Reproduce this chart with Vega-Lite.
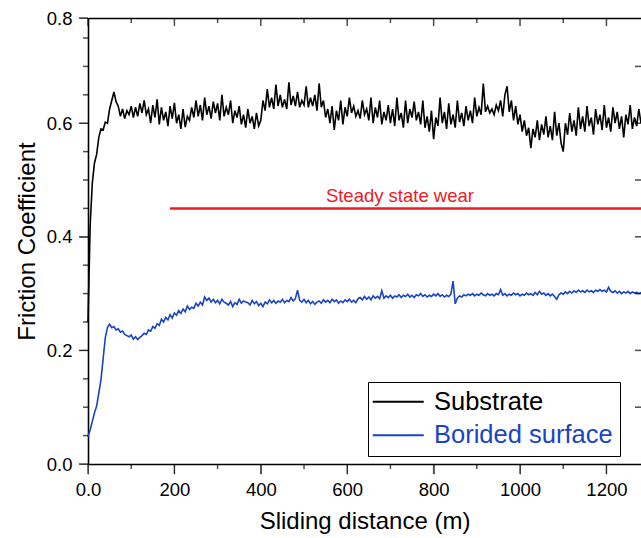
{
"$schema": "https://vega.github.io/schema/vega-lite/v6.json",
"width": 553, "height": 446,
"autosize": {"type": "none"},
"padding": {"left": 88, "top": 18, "right": 0, "bottom": 74},
"background": "white",
"config": {"font": "Liberation Sans", "view": {"stroke": null},
  "axis": {"domainColor": "black", "labelColor": "black", "titleColor": "black", "domainWidth": 1.6, "grid": false, "labelFontSize": 18.5, "titleFontSize": 24, "titleFontWeight": "normal", "labelFont": "Liberation Sans", "titleFont": "Liberation Sans"}},
"resolve": {"axis": {"x": "independent", "y": "independent"}},
"datasets": {
  "xmaj": [{"v":0},{"v":200},{"v":400},{"v":600},{"v":800},{"v":1000},{"v":1200}],
  "xmin": [{"v":100},{"v":300},{"v":500},{"v":700},{"v":900},{"v":1100}],
  "ymaj": [{"v":0},{"v":0.2},{"v":0.4},{"v":0.6},{"v":0.8}],
  "ymin": [{"v":0.05},{"v":0.1},{"v":0.15},{"v":0.25},{"v":0.3},{"v":0.35},{"v":0.45},{"v":0.5},{"v":0.55},{"v":0.65},{"v":0.7},{"v":0.75}],
  "yright": [{"v":0.1},{"v":0.2},{"v":0.3},{"v":0.4},{"v":0.5},{"v":0.6},{"v":0.7}],
  "note": [{"label": "Steady state wear", "x": 190, "x2": 1280, "tx": 722, "y": 0.45}]
},
"layer": [
{
"data": {"values": [
{"s":"Substrate","x":0,"y":0.250},{"s":"Substrate","x":5,"y":0.420},{"s":"Substrate","x":10,"y":0.495},{"s":"Substrate","x":15,"y":0.530},{"s":"Substrate","x":20,"y":0.545},{"s":"Substrate","x":25,"y":0.575},{"s":"Substrate","x":30,"y":0.590},{"s":"Substrate","x":35,"y":0.588},{"s":"Substrate","x":40,"y":0.602},{"s":"Substrate","x":45,"y":0.600},
{"s":"Substrate","x":50,"y":0.625},{"s":"Substrate","x":55,"y":0.640},{"s":"Substrate","x":60,"y":0.655},{"s":"Substrate","x":65,"y":0.638},{"s":"Substrate","x":70,"y":0.630},{"s":"Substrate","x":75,"y":0.612},{"s":"Substrate","x":80,"y":0.625},{"s":"Substrate","x":85,"y":0.608},{"s":"Substrate","x":90,"y":0.622},{"s":"Substrate","x":95,"y":0.615},
{"s":"Substrate","x":100,"y":0.630},{"s":"Substrate","x":105,"y":0.610},{"s":"Substrate","x":110,"y":0.628},{"s":"Substrate","x":115,"y":0.612},{"s":"Substrate","x":120,"y":0.635},{"s":"Substrate","x":125,"y":0.618},{"s":"Substrate","x":130,"y":0.640},{"s":"Substrate","x":135,"y":0.615},{"s":"Substrate","x":140,"y":0.625},{"s":"Substrate","x":145,"y":0.600},
{"s":"Substrate","x":150,"y":0.632},{"s":"Substrate","x":155,"y":0.610},{"s":"Substrate","x":160,"y":0.642},{"s":"Substrate","x":165,"y":0.598},{"s":"Substrate","x":170,"y":0.628},{"s":"Substrate","x":175,"y":0.605},{"s":"Substrate","x":180,"y":0.620},{"s":"Substrate","x":185,"y":0.595},{"s":"Substrate","x":190,"y":0.630},{"s":"Substrate","x":195,"y":0.608},
{"s":"Substrate","x":200,"y":0.636},{"s":"Substrate","x":205,"y":0.600},{"s":"Substrate","x":210,"y":0.615},{"s":"Substrate","x":215,"y":0.590},{"s":"Substrate","x":220,"y":0.625},{"s":"Substrate","x":225,"y":0.593},{"s":"Substrate","x":230,"y":0.612},{"s":"Substrate","x":235,"y":0.605},{"s":"Substrate","x":240,"y":0.628},{"s":"Substrate","x":245,"y":0.610},
{"s":"Substrate","x":250,"y":0.640},{"s":"Substrate","x":255,"y":0.612},{"s":"Substrate","x":260,"y":0.632},{"s":"Substrate","x":265,"y":0.605},{"s":"Substrate","x":270,"y":0.645},{"s":"Substrate","x":275,"y":0.615},{"s":"Substrate","x":280,"y":0.630},{"s":"Substrate","x":285,"y":0.608},{"s":"Substrate","x":290,"y":0.638},{"s":"Substrate","x":295,"y":0.618},
{"s":"Substrate","x":300,"y":0.635},{"s":"Substrate","x":305,"y":0.605},{"s":"Substrate","x":310,"y":0.650},{"s":"Substrate","x":315,"y":0.612},{"s":"Substrate","x":320,"y":0.628},{"s":"Substrate","x":325,"y":0.615},{"s":"Substrate","x":330,"y":0.640},{"s":"Substrate","x":335,"y":0.600},{"s":"Substrate","x":340,"y":0.622},{"s":"Substrate","x":345,"y":0.610},
{"s":"Substrate","x":350,"y":0.630},{"s":"Substrate","x":355,"y":0.598},{"s":"Substrate","x":360,"y":0.615},{"s":"Substrate","x":365,"y":0.592},{"s":"Substrate","x":370,"y":0.625},{"s":"Substrate","x":375,"y":0.600},{"s":"Substrate","x":380,"y":0.612},{"s":"Substrate","x":385,"y":0.590},{"s":"Substrate","x":390,"y":0.618},{"s":"Substrate","x":395,"y":0.595},
{"s":"Substrate","x":400,"y":0.605},{"s":"Substrate","x":405,"y":0.640},{"s":"Substrate","x":410,"y":0.622},{"s":"Substrate","x":415,"y":0.660},{"s":"Substrate","x":420,"y":0.628},{"s":"Substrate","x":425,"y":0.645},{"s":"Substrate","x":430,"y":0.625},{"s":"Substrate","x":435,"y":0.668},{"s":"Substrate","x":440,"y":0.630},{"s":"Substrate","x":445,"y":0.650},
{"s":"Substrate","x":450,"y":0.628},{"s":"Substrate","x":455,"y":0.642},{"s":"Substrate","x":460,"y":0.625},{"s":"Substrate","x":465,"y":0.672},{"s":"Substrate","x":470,"y":0.632},{"s":"Substrate","x":475,"y":0.648},{"s":"Substrate","x":480,"y":0.630},{"s":"Substrate","x":485,"y":0.655},{"s":"Substrate","x":490,"y":0.628},{"s":"Substrate","x":495,"y":0.640},
{"s":"Substrate","x":500,"y":0.632},{"s":"Substrate","x":505,"y":0.665},{"s":"Substrate","x":510,"y":0.628},{"s":"Substrate","x":515,"y":0.645},{"s":"Substrate","x":520,"y":0.630},{"s":"Substrate","x":525,"y":0.650},{"s":"Substrate","x":530,"y":0.622},{"s":"Substrate","x":535,"y":0.670},{"s":"Substrate","x":540,"y":0.628},{"s":"Substrate","x":545,"y":0.640},
{"s":"Substrate","x":550,"y":0.610},{"s":"Substrate","x":555,"y":0.625},{"s":"Substrate","x":560,"y":0.600},{"s":"Substrate","x":565,"y":0.630},{"s":"Substrate","x":570,"y":0.588},{"s":"Substrate","x":575,"y":0.622},{"s":"Substrate","x":580,"y":0.605},{"s":"Substrate","x":585,"y":0.640},{"s":"Substrate","x":590,"y":0.598},{"s":"Substrate","x":595,"y":0.628},
{"s":"Substrate","x":600,"y":0.612},{"s":"Substrate","x":605,"y":0.645},{"s":"Substrate","x":610,"y":0.618},{"s":"Substrate","x":615,"y":0.630},{"s":"Substrate","x":620,"y":0.612},{"s":"Substrate","x":625,"y":0.622},{"s":"Substrate","x":630,"y":0.608},{"s":"Substrate","x":635,"y":0.640},{"s":"Substrate","x":640,"y":0.615},{"s":"Substrate","x":645,"y":0.625},
{"s":"Substrate","x":650,"y":0.605},{"s":"Substrate","x":655,"y":0.645},{"s":"Substrate","x":660,"y":0.600},{"s":"Substrate","x":665,"y":0.628},{"s":"Substrate","x":670,"y":0.610},{"s":"Substrate","x":675,"y":0.640},{"s":"Substrate","x":680,"y":0.598},{"s":"Substrate","x":685,"y":0.620},{"s":"Substrate","x":690,"y":0.605},{"s":"Substrate","x":695,"y":0.632},
{"s":"Substrate","x":700,"y":0.600},{"s":"Substrate","x":705,"y":0.625},{"s":"Substrate","x":710,"y":0.595},{"s":"Substrate","x":715,"y":0.645},{"s":"Substrate","x":720,"y":0.605},{"s":"Substrate","x":725,"y":0.618},{"s":"Substrate","x":730,"y":0.592},{"s":"Substrate","x":735,"y":0.640},{"s":"Substrate","x":740,"y":0.600},{"s":"Substrate","x":745,"y":0.625},
{"s":"Substrate","x":750,"y":0.610},{"s":"Substrate","x":755,"y":0.638},{"s":"Substrate","x":760,"y":0.605},{"s":"Substrate","x":765,"y":0.620},{"s":"Substrate","x":770,"y":0.598},{"s":"Substrate","x":775,"y":0.640},{"s":"Substrate","x":780,"y":0.592},{"s":"Substrate","x":785,"y":0.612},{"s":"Substrate","x":790,"y":0.585},{"s":"Substrate","x":795,"y":0.622},
{"s":"Substrate","x":800,"y":0.572},{"s":"Substrate","x":805,"y":0.610},{"s":"Substrate","x":810,"y":0.595},{"s":"Substrate","x":815,"y":0.645},{"s":"Substrate","x":820,"y":0.600},{"s":"Substrate","x":825,"y":0.620},{"s":"Substrate","x":830,"y":0.590},{"s":"Substrate","x":835,"y":0.635},{"s":"Substrate","x":840,"y":0.598},{"s":"Substrate","x":845,"y":0.615},
{"s":"Substrate","x":850,"y":0.592},{"s":"Substrate","x":855,"y":0.640},{"s":"Substrate","x":860,"y":0.602},{"s":"Substrate","x":865,"y":0.618},{"s":"Substrate","x":870,"y":0.595},{"s":"Substrate","x":875,"y":0.630},{"s":"Substrate","x":880,"y":0.605},{"s":"Substrate","x":885,"y":0.622},{"s":"Substrate","x":890,"y":0.600},{"s":"Substrate","x":895,"y":0.645},
{"s":"Substrate","x":900,"y":0.612},{"s":"Substrate","x":905,"y":0.628},{"s":"Substrate","x":910,"y":0.615},{"s":"Substrate","x":915,"y":0.670},{"s":"Substrate","x":920,"y":0.620},{"s":"Substrate","x":925,"y":0.630},{"s":"Substrate","x":930,"y":0.618},{"s":"Substrate","x":935,"y":0.625},{"s":"Substrate","x":940,"y":0.615},{"s":"Substrate","x":945,"y":0.632},
{"s":"Substrate","x":950,"y":0.622},{"s":"Substrate","x":955,"y":0.640},{"s":"Substrate","x":960,"y":0.612},{"s":"Substrate","x":965,"y":0.650},{"s":"Substrate","x":970,"y":0.665},{"s":"Substrate","x":975,"y":0.620},{"s":"Substrate","x":980,"y":0.640},{"s":"Substrate","x":985,"y":0.605},{"s":"Substrate","x":990,"y":0.630},{"s":"Substrate","x":995,"y":0.598},
{"s":"Substrate","x":1000,"y":0.615},{"s":"Substrate","x":1005,"y":0.585},{"s":"Substrate","x":1010,"y":0.605},{"s":"Substrate","x":1015,"y":0.578},{"s":"Substrate","x":1020,"y":0.592},{"s":"Substrate","x":1025,"y":0.556},{"s":"Substrate","x":1030,"y":0.590},{"s":"Substrate","x":1035,"y":0.575},{"s":"Substrate","x":1040,"y":0.605},{"s":"Substrate","x":1045,"y":0.570},
{"s":"Substrate","x":1050,"y":0.598},{"s":"Substrate","x":1055,"y":0.580},{"s":"Substrate","x":1060,"y":0.612},{"s":"Substrate","x":1065,"y":0.575},{"s":"Substrate","x":1070,"y":0.595},{"s":"Substrate","x":1075,"y":0.570},{"s":"Substrate","x":1080,"y":0.620},{"s":"Substrate","x":1085,"y":0.578},{"s":"Substrate","x":1090,"y":0.600},{"s":"Substrate","x":1095,"y":0.565},
{"s":"Substrate","x":1100,"y":0.550},{"s":"Substrate","x":1105,"y":0.600},{"s":"Substrate","x":1110,"y":0.580},{"s":"Substrate","x":1115,"y":0.618},{"s":"Substrate","x":1120,"y":0.585},{"s":"Substrate","x":1125,"y":0.605},{"s":"Substrate","x":1130,"y":0.578},{"s":"Substrate","x":1135,"y":0.628},{"s":"Substrate","x":1140,"y":0.590},{"s":"Substrate","x":1145,"y":0.612},
{"s":"Substrate","x":1150,"y":0.585},{"s":"Substrate","x":1155,"y":0.630},{"s":"Substrate","x":1160,"y":0.595},{"s":"Substrate","x":1165,"y":0.610},{"s":"Substrate","x":1170,"y":0.580},{"s":"Substrate","x":1175,"y":0.625},{"s":"Substrate","x":1180,"y":0.598},{"s":"Substrate","x":1185,"y":0.615},{"s":"Substrate","x":1190,"y":0.588},{"s":"Substrate","x":1195,"y":0.632},
{"s":"Substrate","x":1200,"y":0.592},{"s":"Substrate","x":1205,"y":0.610},{"s":"Substrate","x":1210,"y":0.585},{"s":"Substrate","x":1215,"y":0.628},{"s":"Substrate","x":1220,"y":0.600},{"s":"Substrate","x":1225,"y":0.620},{"s":"Substrate","x":1230,"y":0.590},{"s":"Substrate","x":1235,"y":0.612},{"s":"Substrate","x":1240,"y":0.575},{"s":"Substrate","x":1245,"y":0.615},
{"s":"Substrate","x":1250,"y":0.598},{"s":"Substrate","x":1255,"y":0.632},{"s":"Substrate","x":1260,"y":0.590},{"s":"Substrate","x":1265,"y":0.610},{"s":"Substrate","x":1270,"y":0.595},{"s":"Substrate","x":1275,"y":0.625},{"s":"Substrate","x":1280,"y":0.600},
{"s":"Borided surface","x":0,"y":0.048},{"s":"Borided surface","x":5,"y":0.060},{"s":"Borided surface","x":10,"y":0.075},{"s":"Borided surface","x":15,"y":0.090},{"s":"Borided surface","x":20,"y":0.102},{"s":"Borided surface","x":25,"y":0.125},{"s":"Borided surface","x":30,"y":0.148},{"s":"Borided surface","x":35,"y":0.185},{"s":"Borided surface","x":40,"y":0.222},{"s":"Borided surface","x":45,"y":0.240},
{"s":"Borided surface","x":50,"y":0.246},{"s":"Borided surface","x":55,"y":0.240},{"s":"Borided surface","x":60,"y":0.242},{"s":"Borided surface","x":65,"y":0.236},{"s":"Borided surface","x":70,"y":0.238},{"s":"Borided surface","x":75,"y":0.232},{"s":"Borided surface","x":80,"y":0.234},{"s":"Borided surface","x":85,"y":0.228},{"s":"Borided surface","x":90,"y":0.226},{"s":"Borided surface","x":95,"y":0.224},
{"s":"Borided surface","x":100,"y":0.227},{"s":"Borided surface","x":105,"y":0.220},{"s":"Borided surface","x":110,"y":0.224},{"s":"Borided surface","x":115,"y":0.219},{"s":"Borided surface","x":120,"y":0.223},{"s":"Borided surface","x":125,"y":0.226},{"s":"Borided surface","x":130,"y":0.230},{"s":"Borided surface","x":135,"y":0.228},{"s":"Borided surface","x":140,"y":0.236},{"s":"Borided surface","x":145,"y":0.234},
{"s":"Borided surface","x":150,"y":0.242},{"s":"Borided surface","x":155,"y":0.239},{"s":"Borided surface","x":160,"y":0.247},{"s":"Borided surface","x":165,"y":0.244},{"s":"Borided surface","x":170,"y":0.255},{"s":"Borided surface","x":175,"y":0.250},{"s":"Borided surface","x":180,"y":0.258},{"s":"Borided surface","x":185,"y":0.254},{"s":"Borided surface","x":190,"y":0.263},{"s":"Borided surface","x":195,"y":0.257},
{"s":"Borided surface","x":200,"y":0.266},{"s":"Borided surface","x":205,"y":0.262},{"s":"Borided surface","x":210,"y":0.270},{"s":"Borided surface","x":215,"y":0.265},{"s":"Borided surface","x":220,"y":0.273},{"s":"Borided surface","x":225,"y":0.268},{"s":"Borided surface","x":230,"y":0.278},{"s":"Borided surface","x":235,"y":0.272},{"s":"Borided surface","x":240,"y":0.276},{"s":"Borided surface","x":245,"y":0.274},
{"s":"Borided surface","x":250,"y":0.283},{"s":"Borided surface","x":255,"y":0.278},{"s":"Borided surface","x":260,"y":0.285},{"s":"Borided surface","x":265,"y":0.280},{"s":"Borided surface","x":270,"y":0.294},{"s":"Borided surface","x":275,"y":0.288},{"s":"Borided surface","x":280,"y":0.292},{"s":"Borided surface","x":285,"y":0.285},{"s":"Borided surface","x":290,"y":0.290},{"s":"Borided surface","x":295,"y":0.284},
{"s":"Borided surface","x":300,"y":0.288},{"s":"Borided surface","x":305,"y":0.282},{"s":"Borided surface","x":310,"y":0.290},{"s":"Borided surface","x":315,"y":0.285},{"s":"Borided surface","x":320,"y":0.283},{"s":"Borided surface","x":325,"y":0.280},{"s":"Borided surface","x":330,"y":0.286},{"s":"Borided surface","x":335,"y":0.277},{"s":"Borided surface","x":340,"y":0.284},{"s":"Borided surface","x":345,"y":0.281},
{"s":"Borided surface","x":350,"y":0.290},{"s":"Borided surface","x":355,"y":0.283},{"s":"Borided surface","x":360,"y":0.287},{"s":"Borided surface","x":365,"y":0.285},{"s":"Borided surface","x":370,"y":0.284},{"s":"Borided surface","x":375,"y":0.280},{"s":"Borided surface","x":380,"y":0.288},{"s":"Borided surface","x":385,"y":0.282},{"s":"Borided surface","x":390,"y":0.286},{"s":"Borided surface","x":395,"y":0.279},
{"s":"Borided surface","x":400,"y":0.283},{"s":"Borided surface","x":405,"y":0.277},{"s":"Borided surface","x":410,"y":0.285},{"s":"Borided surface","x":415,"y":0.282},{"s":"Borided surface","x":420,"y":0.289},{"s":"Borided surface","x":425,"y":0.284},{"s":"Borided surface","x":430,"y":0.288},{"s":"Borided surface","x":435,"y":0.283},{"s":"Borided surface","x":440,"y":0.287},{"s":"Borided surface","x":445,"y":0.285},
{"s":"Borided surface","x":450,"y":0.290},{"s":"Borided surface","x":455,"y":0.284},{"s":"Borided surface","x":460,"y":0.288},{"s":"Borided surface","x":465,"y":0.286},{"s":"Borided surface","x":470,"y":0.293},{"s":"Borided surface","x":475,"y":0.287},{"s":"Borided surface","x":480,"y":0.291},{"s":"Borided surface","x":485,"y":0.306},{"s":"Borided surface","x":490,"y":0.288},{"s":"Borided surface","x":495,"y":0.285},
{"s":"Borided surface","x":500,"y":0.290},{"s":"Borided surface","x":505,"y":0.284},{"s":"Borided surface","x":510,"y":0.288},{"s":"Borided surface","x":515,"y":0.282},{"s":"Borided surface","x":520,"y":0.286},{"s":"Borided surface","x":525,"y":0.281},{"s":"Borided surface","x":530,"y":0.285},{"s":"Borided surface","x":535,"y":0.287},{"s":"Borided surface","x":540,"y":0.283},{"s":"Borided surface","x":545,"y":0.289},
{"s":"Borided surface","x":550,"y":0.285},{"s":"Borided surface","x":555,"y":0.288},{"s":"Borided surface","x":560,"y":0.284},{"s":"Borided surface","x":565,"y":0.290},{"s":"Borided surface","x":570,"y":0.286},{"s":"Borided surface","x":575,"y":0.289},{"s":"Borided surface","x":580,"y":0.283},{"s":"Borided surface","x":585,"y":0.287},{"s":"Borided surface","x":590,"y":0.284},{"s":"Borided surface","x":595,"y":0.289},
{"s":"Borided surface","x":600,"y":0.286},{"s":"Borided surface","x":605,"y":0.290},{"s":"Borided surface","x":610,"y":0.285},{"s":"Borided surface","x":615,"y":0.288},{"s":"Borided surface","x":620,"y":0.284},{"s":"Borided surface","x":625,"y":0.291},{"s":"Borided surface","x":630,"y":0.293},{"s":"Borided surface","x":635,"y":0.289},{"s":"Borided surface","x":640,"y":0.295},{"s":"Borided surface","x":645,"y":0.290},
{"s":"Borided surface","x":650,"y":0.294},{"s":"Borided surface","x":655,"y":0.289},{"s":"Borided surface","x":660,"y":0.296},{"s":"Borided surface","x":665,"y":0.292},{"s":"Borided surface","x":670,"y":0.295},{"s":"Borided surface","x":675,"y":0.291},{"s":"Borided surface","x":680,"y":0.305},{"s":"Borided surface","x":685,"y":0.292},{"s":"Borided surface","x":690,"y":0.296},{"s":"Borided surface","x":695,"y":0.293},
{"s":"Borided surface","x":700,"y":0.297},{"s":"Borided surface","x":705,"y":0.292},{"s":"Borided surface","x":710,"y":0.296},{"s":"Borided surface","x":715,"y":0.294},{"s":"Borided surface","x":720,"y":0.298},{"s":"Borided surface","x":725,"y":0.293},{"s":"Borided surface","x":730,"y":0.297},{"s":"Borided surface","x":735,"y":0.295},{"s":"Borided surface","x":740,"y":0.299},{"s":"Borided surface","x":745,"y":0.294},
{"s":"Borided surface","x":750,"y":0.297},{"s":"Borided surface","x":755,"y":0.293},{"s":"Borided surface","x":760,"y":0.298},{"s":"Borided surface","x":765,"y":0.296},{"s":"Borided surface","x":770,"y":0.300},{"s":"Borided surface","x":775,"y":0.295},{"s":"Borided surface","x":780,"y":0.298},{"s":"Borided surface","x":785,"y":0.294},{"s":"Borided surface","x":790,"y":0.297},{"s":"Borided surface","x":795,"y":0.295},
{"s":"Borided surface","x":800,"y":0.299},{"s":"Borided surface","x":805,"y":0.296},{"s":"Borided surface","x":810,"y":0.300},{"s":"Borided surface","x":815,"y":0.295},{"s":"Borided surface","x":820,"y":0.298},{"s":"Borided surface","x":825,"y":0.294},{"s":"Borided surface","x":830,"y":0.297},{"s":"Borided surface","x":835,"y":0.295},{"s":"Borided surface","x":840,"y":0.299},{"s":"Borided surface","x":845,"y":0.322},
{"s":"Borided surface","x":850,"y":0.282},{"s":"Borided surface","x":855,"y":0.292},{"s":"Borided surface","x":860,"y":0.296},{"s":"Borided surface","x":865,"y":0.294},{"s":"Borided surface","x":870,"y":0.298},{"s":"Borided surface","x":875,"y":0.296},{"s":"Borided surface","x":880,"y":0.299},{"s":"Borided surface","x":885,"y":0.297},{"s":"Borided surface","x":890,"y":0.300},{"s":"Borided surface","x":895,"y":0.296},
{"s":"Borided surface","x":900,"y":0.299},{"s":"Borided surface","x":905,"y":0.297},{"s":"Borided surface","x":910,"y":0.301},{"s":"Borided surface","x":915,"y":0.298},{"s":"Borided surface","x":920,"y":0.296},{"s":"Borided surface","x":925,"y":0.300},{"s":"Borided surface","x":930,"y":0.297},{"s":"Borided surface","x":935,"y":0.299},{"s":"Borided surface","x":940,"y":0.296},{"s":"Borided surface","x":945,"y":0.300},
{"s":"Borided surface","x":950,"y":0.298},{"s":"Borided surface","x":955,"y":0.307},{"s":"Borided surface","x":960,"y":0.297},{"s":"Borided surface","x":965,"y":0.300},{"s":"Borided surface","x":970,"y":0.296},{"s":"Borided surface","x":975,"y":0.299},{"s":"Borided surface","x":980,"y":0.297},{"s":"Borided surface","x":985,"y":0.301},{"s":"Borided surface","x":990,"y":0.298},{"s":"Borided surface","x":995,"y":0.300},
{"s":"Borided surface","x":1000,"y":0.296},{"s":"Borided surface","x":1005,"y":0.299},{"s":"Borided surface","x":1010,"y":0.297},{"s":"Borided surface","x":1015,"y":0.301},{"s":"Borided surface","x":1020,"y":0.298},{"s":"Borided surface","x":1025,"y":0.300},{"s":"Borided surface","x":1030,"y":0.297},{"s":"Borided surface","x":1035,"y":0.302},{"s":"Borided surface","x":1040,"y":0.298},{"s":"Borided surface","x":1045,"y":0.304},
{"s":"Borided surface","x":1050,"y":0.299},{"s":"Borided surface","x":1055,"y":0.301},{"s":"Borided surface","x":1060,"y":0.297},{"s":"Borided surface","x":1065,"y":0.300},{"s":"Borided surface","x":1070,"y":0.296},{"s":"Borided surface","x":1075,"y":0.299},{"s":"Borided surface","x":1080,"y":0.295},{"s":"Borided surface","x":1085,"y":0.290},{"s":"Borided surface","x":1090,"y":0.298},{"s":"Borided surface","x":1095,"y":0.301},
{"s":"Borided surface","x":1100,"y":0.299},{"s":"Borided surface","x":1105,"y":0.303},{"s":"Borided surface","x":1110,"y":0.300},{"s":"Borided surface","x":1115,"y":0.304},{"s":"Borided surface","x":1120,"y":0.301},{"s":"Borided surface","x":1125,"y":0.305},{"s":"Borided surface","x":1130,"y":0.302},{"s":"Borided surface","x":1135,"y":0.306},{"s":"Borided surface","x":1140,"y":0.303},{"s":"Borided surface","x":1145,"y":0.305},
{"s":"Borided surface","x":1150,"y":0.302},{"s":"Borided surface","x":1155,"y":0.306},{"s":"Borided surface","x":1160,"y":0.303},{"s":"Borided surface","x":1165,"y":0.305},{"s":"Borided surface","x":1170,"y":0.302},{"s":"Borided surface","x":1175,"y":0.306},{"s":"Borided surface","x":1180,"y":0.304},{"s":"Borided surface","x":1185,"y":0.307},{"s":"Borided surface","x":1190,"y":0.304},{"s":"Borided surface","x":1195,"y":0.306},
{"s":"Borided surface","x":1200,"y":0.303},{"s":"Borided surface","x":1205,"y":0.311},{"s":"Borided surface","x":1210,"y":0.304},{"s":"Borided surface","x":1215,"y":0.302},{"s":"Borided surface","x":1220,"y":0.305},{"s":"Borided surface","x":1225,"y":0.301},{"s":"Borided surface","x":1230,"y":0.304},{"s":"Borided surface","x":1235,"y":0.300},{"s":"Borided surface","x":1240,"y":0.303},{"s":"Borided surface","x":1245,"y":0.301},
{"s":"Borided surface","x":1250,"y":0.304},{"s":"Borided surface","x":1255,"y":0.300},{"s":"Borided surface","x":1260,"y":0.303},{"s":"Borided surface","x":1265,"y":0.301},{"s":"Borided surface","x":1270,"y":0.302},{"s":"Borided surface","x":1275,"y":0.300},{"s":"Borided surface","x":1280,"y":0.302}
]},
"mark": {"type": "line", "strokeWidth": 1.6},
"encoding": {
  "x": {"field": "x", "type": "quantitative", "scale": {"domain": [0, 1280], "nice": false, "zero": false},
    "axis": {"orient": "bottom", "values": [0, 200, 400, 600, 800, 1000, 1200], "format": "d", "labelExpr": "datum.value === 0 ? '0.0' : datum.label", "tickSize": 10, "labelPadding": 6, "labelFlush": false, "labelOverlap": false, "title": "Sliding distance (m)", "titlePadding": 11}},
  "y": {"field": "y", "type": "quantitative", "scale": {"domain": [0, 0.75, 0.8], "range": [446, 20, 0], "nice": false, "zero": false},
    "axis": {"orient": "left", "values": [0, 0.2, 0.4, 0.6, 0.8], "format": ".1f", "tickSize": 9, "labelPadding": 7, "labelFlush": false, "labelOverlap": false, "title": "Friction Coefficient", "titlePadding": 7}},
  "color": {"field": "s", "type": "nominal", "scale": {"domain": ["Substrate", "Borided surface"], "range": ["#000000", "#1a44c6"]},
    "legend": {"orient": "none", "legendX": 280, "legendY": 364, "title": null, "direction": "vertical", "strokeColor": "black", "fillColor": "white", "padding": 7, "symbolType": "M-2.55,0H2.55", "symbolSize": 400, "symbolOffset": 10.5, "symbolStrokeWidth": 2, "labelFontSize": 25.5, "labelOffset": 23, "rowPadding": 6.6, "labelLimit": 400, "labelFont": "Liberation Sans",
      "encode": {"labels": {"update": {"fill": {"signal": "datum.value === 'Substrate' ? '#000000' : '#1a44c6'"}}}}}}
}
},
{
"data": {"name": "note"},
"mark": {"type": "rule", "color": "#ec1c24", "strokeWidth": 2.5},
"encoding": {
  "x": {"field": "x", "type": "quantitative", "scale": {"domain": [0, 1280], "nice": false, "zero": false},
    "axis": {"orient": "top", "values": [0, 200, 400, 600, 800, 1000, 1200], "ticks": false, "labels": false, "title": null, "domain": true}},
  "x2": {"field": "x2"},
  "y": {"field": "y", "type": "quantitative", "scale": {"domain": [0, 0.75, 0.8], "range": [446, 20, 0], "nice": false, "zero": false}, "axis": null}
}
},
{
"data": {"name": "note"},
"mark": {"type": "text", "color": "#ec1c24", "fontSize": 18.5, "baseline": "alphabetic", "dy": -6.5, "font": "Liberation Sans"},
"encoding": {
  "x": {"field": "tx", "type": "quantitative", "scale": {"domain": [0, 1280], "nice": false, "zero": false}, "axis": null},
  "y": {"field": "y", "type": "quantitative", "scale": {"domain": [0, 0.75, 0.8], "range": [446, 20, 0], "nice": false, "zero": false}, "axis": null},
  "text": {"field": "label"}
}
},
{
"data": {"name": "xmaj"},
"mark": {"type": "tick", "orient": "vertical", "size": 10, "thickness": 1.5, "yOffset": 5, "color": "black"},
"encoding": {
  "x": {"field": "v", "type": "quantitative", "scale": {"domain": [0, 1280], "nice": false, "zero": false}, "axis": null},
  "y": {"datum": 0, "type": "quantitative", "scale": {"domain": [0, 0.75, 0.8], "range": [446, 20, 0], "nice": false, "zero": false}, "axis": null}
}
},
{
"data": {"name": "xmin"},
"mark": {"type": "tick", "orient": "vertical", "size": 5, "thickness": 1.5, "yOffset": 2.5, "color": "black"},
"encoding": {
  "x": {"field": "v", "type": "quantitative", "scale": {"domain": [0, 1280], "nice": false, "zero": false}, "axis": null},
  "y": {"datum": 0, "type": "quantitative", "scale": {"domain": [0, 0.75, 0.8], "range": [446, 20, 0], "nice": false, "zero": false}, "axis": null}
}
},
{
"data": {"name": "xmaj"},
"mark": {"type": "tick", "orient": "vertical", "size": 8, "thickness": 1.5, "yOffset": 4, "color": "black"},
"encoding": {
  "x": {"field": "v", "type": "quantitative", "scale": {"domain": [0, 1280], "nice": false, "zero": false}, "axis": null},
  "y": {"datum": 0.8, "type": "quantitative", "scale": {"domain": [0, 0.75, 0.8], "range": [446, 20, 0], "nice": false, "zero": false}, "axis": null}
}
},
{
"data": {"name": "xmin"},
"mark": {"type": "tick", "orient": "vertical", "size": 5, "thickness": 1.5, "yOffset": 2.5, "color": "black"},
"encoding": {
  "x": {"field": "v", "type": "quantitative", "scale": {"domain": [0, 1280], "nice": false, "zero": false}, "axis": null},
  "y": {"datum": 0.8, "type": "quantitative", "scale": {"domain": [0, 0.75, 0.8], "range": [446, 20, 0], "nice": false, "zero": false}, "axis": null}
}
},
{
"data": {"name": "ymin"},
"mark": {"type": "tick", "orient": "horizontal", "size": 5, "thickness": 1.5, "xOffset": -2.5, "color": "black"},
"encoding": {
  "x": {"datum": 0, "type": "quantitative", "scale": {"domain": [0, 1280], "nice": false, "zero": false}, "axis": null},
  "y": {"field": "v", "type": "quantitative", "scale": {"domain": [0, 0.75, 0.8], "range": [446, 20, 0], "nice": false, "zero": false}, "axis": null}
}
},
{
"data": {"name": "yright"},
"mark": {"type": "tick", "orient": "horizontal", "size": 6, "thickness": 1.5, "xOffset": -3, "color": "black"},
"encoding": {
  "x": {"datum": 1280, "type": "quantitative", "scale": {"domain": [0, 1280], "nice": false, "zero": false}, "axis": null},
  "y": {"field": "v", "type": "quantitative", "scale": {"domain": [0, 0.75, 0.8], "range": [446, 20, 0], "nice": false, "zero": false}, "axis": null}
}
},
{
"data": {"name": "ymaj"},
"mark": {"type": "tick", "orient": "horizontal", "size": 9, "thickness": 1.5, "xOffset": -4.5, "color": "black"},
"encoding": {
  "x": {"datum": 0, "type": "quantitative", "scale": {"domain": [0, 1280], "nice": false, "zero": false}, "axis": null},
  "y": {"field": "v", "type": "quantitative", "scale": {"domain": [0, 0.75, 0.8], "range": [446, 20, 0], "nice": false, "zero": false}, "axis": null}
}
}
]
}
